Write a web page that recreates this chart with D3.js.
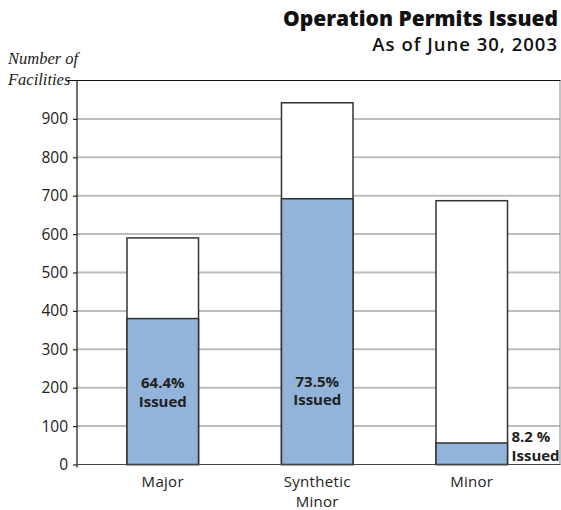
<!DOCTYPE html>
<html><head><meta charset="utf-8">
<script src="https://cdn.jsdelivr.net/npm/d3@7"></script>
<style>body{margin:0;background:#fff}svg{display:block}</style>
</head><body>
<script>
const categories = [["Major"], ["Synthetic", "Minor"], ["Minor"]];
const totalFacilities = [590, 942, 687];
const issuedPermits = [380, 692, 56];
const issuedPct = ["64.4%", "73.5%", "8.2 %"];
const yTicks = [0, 100, 200, 300, 400, 500, 600, 700, 800, 900];

(function () {
const W = 561, H = 510;
const pL = 77, pR = 560, pT = 80.5, pB = 464.5;
const svg = d3.select("body").append("svg").attr("width", W).attr("height", H);
const font = "'Open Sans', sans-serif";

const y = d3.scaleLinear().domain([0, 1000]).range([pB, pT]);
const x = d3.scaleBand().domain(d3.range(3)).range([85.5, 549]).paddingInner(0.537).paddingOuter(0.2685);

// gridlines
svg.append("g").selectAll("line").data(yTicks.filter(d => d > 0)).join("line")
  .attr("x1", pL).attr("x2", pR).attr("y1", d => y(d)).attr("y2", d => y(d))
  .attr("stroke", "#bdbdc0").attr("stroke-width", 2);

// right border
svg.append("line").attr("x1", pR).attr("x2", pR).attr("y1", pT).attr("y2", pB)
  .attr("stroke", "#8a8a8a").attr("stroke-width", 1);

// top border
svg.append("line").attr("x1", 68).attr("x2", pR + 0.5).attr("y1", pT).attr("y2", pT)
  .attr("stroke", "#111").attr("stroke-width", 1.2);

// y axis
const yAxis = d3.axisLeft(y).tickValues(yTicks).tickSize(4).tickPadding(5).tickSizeOuter(0);
const ga = svg.append("g").attr("transform", `translate(${pL},0)`).call(yAxis);
ga.select(".domain").remove();
ga.selectAll(".tick line").attr("stroke", "#222").attr("stroke-width", 1.2);
ga.selectAll(".tick text").attr("font-family", font).attr("font-size", 15.5).attr("fill", "#222");
svg.append("line").attr("x1", pL).attr("x2", pL).attr("y1", pT).attr("y2", pB + 3)
  .attr("stroke", "#111").attr("stroke-width", 1.2);

// bars
const bars = svg.append("g");
bars.selectAll("rect.total").data(totalFacilities).join("rect").attr("class", "total")
  .attr("x", (d, i) => x(i)).attr("width", x.bandwidth())
  .attr("y", d => y(d)).attr("height", d => y(0) - y(d))
  .attr("fill", "#fff").attr("stroke", "#333").attr("stroke-width", 1.5);
bars.selectAll("rect.issued").data(issuedPermits).join("rect").attr("class", "issued")
  .attr("x", (d, i) => x(i)).attr("width", x.bandwidth())
  .attr("y", d => y(d)).attr("height", d => y(0) - y(d))
  .attr("fill", "#92b3da").attr("stroke", "#333").attr("stroke-width", 1.5);

// x baseline
svg.append("line").attr("x1", pL).attr("x2", pR + 0.5).attr("y1", pB).attr("y2", pB)
  .attr("stroke", "#444").attr("stroke-width", 1.2);

// percentage labels
issuedPct.forEach((p, i) => {
  let tx, ty, anchor;
  if (i < 2) { tx = x(i) + x.bandwidth() / 2; ty = i === 0 ? 388 : 386.5; anchor = "middle"; }
  else { tx = x(i) + x.bandwidth() + 4; ty = 442; anchor = "start"; }
  const t = svg.append("text").attr("x", tx).attr("y", ty).attr("text-anchor", anchor)
    .attr("font-family", font).attr("font-weight", 700).attr("font-size", 15).attr("fill", "#222");
  t.append("tspan").attr("x", tx).text(p);
  t.append("tspan").attr("x", tx).attr("dy", 18.5).text("Issued");
});

// category labels
categories.forEach((lines, i) => {
  const t = svg.append("text").attr("text-anchor", "middle")
    .attr("font-family", font).attr("font-size", 15).attr("letter-spacing", 0.3).attr("fill", "#222");
  lines.forEach((l, j) => t.append("tspan").attr("x", x(i) + x.bandwidth() / 2)
    .attr("y", 486.5 + j * 20.5).text(l));
});

// y axis title
svg.append("text").attr("x", 8).attr("y", 64).attr("font-family", "'Liberation Serif', serif")
  .attr("font-style", "italic").attr("font-size", 16.5).attr("fill", "#222").text("Number of");
svg.append("text").attr("x", 8).attr("y", 84.5).attr("font-family", "'Liberation Serif', serif")
  .attr("font-style", "italic").attr("font-size", 16.5).attr("fill", "#222").text("Facilities");

// titles
svg.append("text").attr("x", 558).attr("y", 26).attr("text-anchor", "end")
  .attr("font-family", font).attr("font-weight", 800).attr("font-size", 21).attr("fill", "#111")
  .text("Operation Permits Issued");
svg.append("text").attr("x", 558).attr("y", 50.5).attr("text-anchor", "end")
  .attr("font-family", font).attr("font-weight", 600).attr("font-size", 18.5)
  .attr("letter-spacing", 1).attr("fill", "#111")
  .text("As of June 30, 2003");
})();
</script>
</body></html>
